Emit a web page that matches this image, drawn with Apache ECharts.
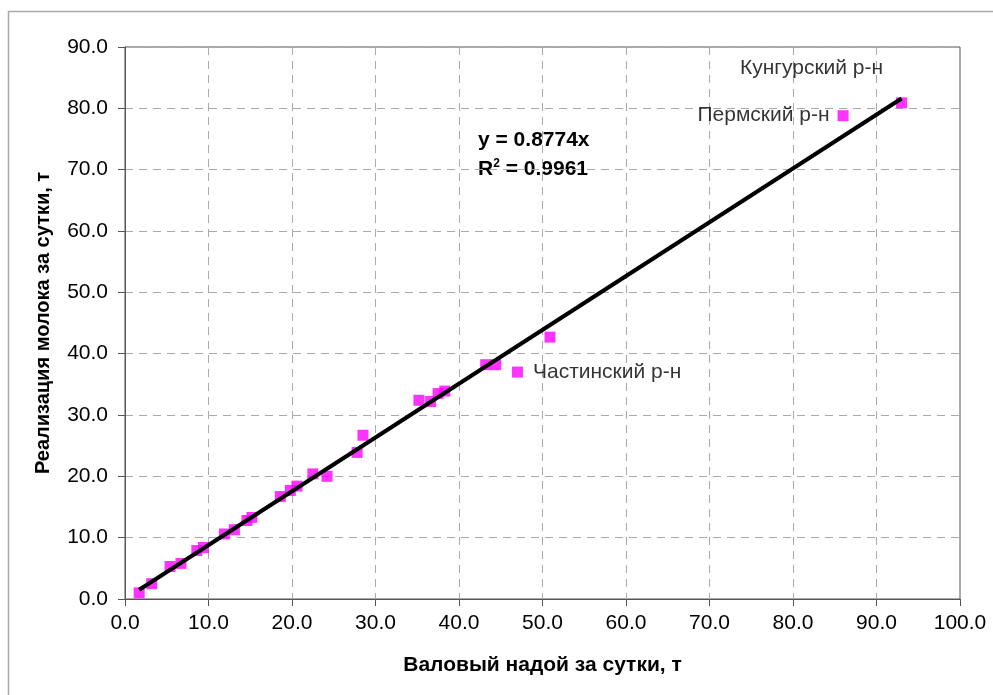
<!DOCTYPE html>
<html>
<head>
<meta charset="utf-8">
<script src="https://cdn.jsdelivr.net/npm/echarts@6/dist/echarts.min.js"></script>
<style>
html,body{margin:0;padding:0;background:#fff;}
#chart{width:993px;height:695px;}
</style>
</head>
<body>
<div id="chart"></div>
<script>
// Валовый надой за сутки, т
var grossYield = [1.7, 3.2, 5.4, 6.7, 8.6, 9.4, 11.9, 13.1, 14.6, 15.2, 18.6, 19.8, 20.6, 22.5, 24.2, 27.8, 28.5, 35.2, 36.6, 37.5, 38.3, 43.2, 44.4, 47.0, 50.9, 86.0, 93.0];
// Реализация молока за сутки, т
var milkSold = [1.0, 2.5, 5.3, 5.8, 7.9, 8.4, 10.6, 11.3, 12.8, 13.3, 16.7, 17.7, 18.4, 20.4, 20.0, 23.9, 26.7, 32.4, 32.2, 33.5, 33.9, 38.2, 38.2, 37.0, 42.7, 78.8, 80.9];
var pointNames = ['', '', '', '', '', '', '', '', '', '', '', '', '', '', '', '', '', '', '', '', '', '', '', 'Частинский р-н', '', 'Пермский р-н', 'Кунгурский р-н'];
// Линия тренда y = 0.8774x
var trendX = [1.7, 93.0];
var trendY = [1.5, 81.6];
var xTicks = [0, 10, 20, 30, 40, 50, 60, 70, 80, 90, 100];
var yTicks = [0, 10, 20, 30, 40, 50, 60, 70, 80, 90];
var equationText = 'y = 0.8774x';
var r2Text = 'R{sup|2} = 0.9961';

var FONT = '"Liberation Sans", Arial, sans-serif';
var labelPos = {
  'Частинский р-н': {position: 'right', distance: 10},
  'Пермский р-н': {position: 'left', distance: 8},
  'Кунгурский р-н': {position: 'top', distance: 5, offset: [-90, -14]}
};

var points = grossYield.map(function (x, i) {
  var item = {value: [x, milkSold[i]], name: pointNames[i]};
  if (pointNames[i]) {
    var lp = labelPos[pointNames[i]];
    item.label = Object.assign({show: true, formatter: '{b}', color: '#000', fontSize: 21, fontFamily: FONT}, lp);
  }
  return item;
});
var trend = trendX.map(function (x, i) { return [x, trendY[i]]; });

var chart = echarts.init(document.getElementById('chart'));
chart.setOption({
  backgroundColor: '#fff',
  animation: false,
  grid: {left: 125, right: 33, top: 47, bottom: 96, show: true, borderColor: '#555', borderWidth: 1},
  graphic: [
    {type: 'rect', shape: {x: 8.5, y: 11.5, width: 1100, height: 800}, style: {fill: 'none', stroke: '#aaa', lineWidth: 1.5}, z: -1},
    {type: 'text', left: 478, top: 130, style: {text: equationText, font: 'bold 21px ' + FONT, fill: '#000'}},
    {type: 'text', left: 478, top: 158, style: {text: r2Text, font: 'bold 21px ' + FONT, fill: '#000',
      rich: {sup: {fontSize: 12, fontWeight: 'bold', fontFamily: FONT, verticalAlign: 'top', padding: [0, 0, 10, 0]}}}}
  ],
  xAxis: {
    type: 'value', min: 0, max: 100, interval: 10,
    name: 'Валовый надой за сутки, т', nameLocation: 'middle', nameGap: 56,
    nameTextStyle: {fontSize: 21, fontWeight: 'bold', fontFamily: FONT, color: '#000'},
    axisLine: {show: true, onZero: false, lineStyle: {color: '#555', width: 1}},
    axisTick: {show: true, inside: false, length: 7, lineStyle: {color: '#555'}},
    axisLabel: {fontSize: 21, fontFamily: FONT, color: '#000', margin: 14,
      formatter: function (v) { return v.toFixed(1); }},
    splitLine: {show: true, lineStyle: {color: '#aaa', type: [8, 6], width: 1}}
  },
  yAxis: {
    type: 'value', min: 0, max: 90, interval: 10,
    name: 'Реализация молока за сутки, т', nameLocation: 'middle', nameGap: 72,
    nameTextStyle: {fontSize: 20, fontWeight: 'bold', fontFamily: FONT, color: '#000'},
    axisLine: {show: true, onZero: false, lineStyle: {color: '#555', width: 1}},
    axisTick: {show: true, inside: false, length: 7, lineStyle: {color: '#555'}},
    axisLabel: {fontSize: 21, fontFamily: FONT, color: '#000', margin: 17,
      formatter: function (v) { return v.toFixed(1); }},
    splitLine: {show: true, lineStyle: {color: '#aaa', type: [8, 6], width: 1}}
  },
  series: [
    {
      type: 'scatter', symbol: 'rect', symbolSize: 11,
      itemStyle: {color: '#FF00FF'},
      data: points, z: 2
    },
    {
      type: 'line', data: trend, symbol: 'none', silent: true,
      lineStyle: {color: '#000', width: 4}, z: 3
    }
  ]
});
</script>
</body>
</html>
